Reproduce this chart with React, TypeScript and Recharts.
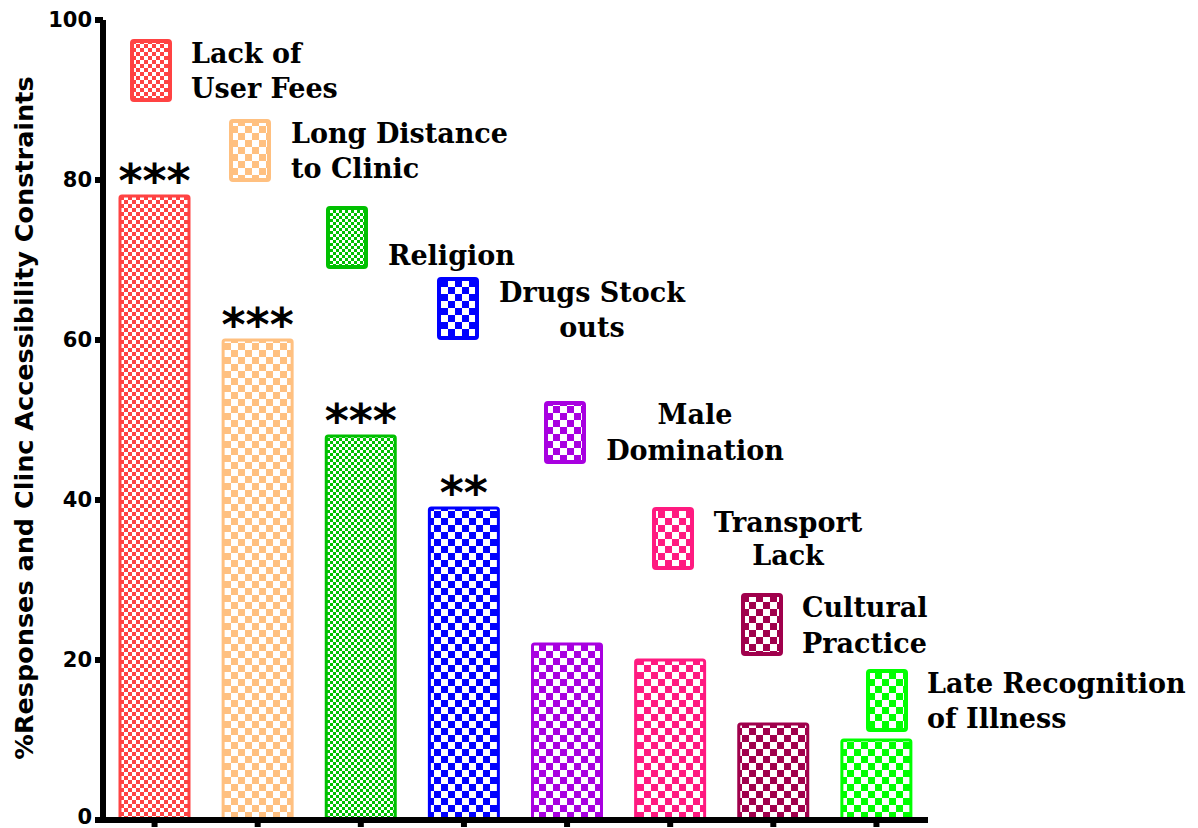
import React from "react";
import { BarChart, Bar, XAxis, YAxis, Cell, LabelList, Legend } from "recharts";

// ---- data ----
const categories = [
  "Lack of User Fees",
  "Long Distance to Clinic",
  "Religion",
  "Drugs Stock outs",
  "Male Domination",
  "Transport Lack",
  "Cultural Practice",
  "Late Recognition of Illness",
];
const values = [78, 60, 48, 39, 22, 20, 12, 10];
const significance = ["***", "***", "***", "**", "", "", "", ""];
const legendLines = [
  ["Lack of", "User Fees"],
  ["Long Distance", "to Clinic"],
  ["Religion"],
  ["Drugs Stock", "outs"],
  ["Male", "Domination"],
  ["Transport", "Lack"],
  ["Cultural", "Practice"],
  ["Late Recognition", "of Illness"],
];
const yTicks = [0, 20, 40, 60, 80, 100];
const yLabel = "%Responses and Clinc Accessibility Constraints";

// ---- styles ----
const colors = ["#FF4343", "#FFC080", "#00C000", "#0000FF", "#A800E0", "#FF1A80", "#A0004C", "#00FF00"];
const cellSizes = [4, 7, 3, 7, 7, 7, 7, 7];
const legendLayout = [
  { sx: 130, sy: 39, tx: 191, ty: [63, 98], anchor: "start" },
  { sx: 229, sy: 119, tx: 291, ty: [143, 178], anchor: "start" },
  { sx: 326, sy: 206, tx: 388, ty: [265], anchor: "start" },
  { sx: 437, sy: 277, tx: 592, ty: [302, 337], anchor: "middle" },
  { sx: 544, sy: 401, tx: 695, ty: [424, 460], anchor: "middle" },
  { sx: 652, sy: 507, tx: 788, ty: [532, 565], anchor: "middle" },
  { sx: 741, sy: 593, tx: 802, ty: [617, 653], anchor: "start" },
  { sx: 866, sy: 669, tx: 927, ty: [693, 728], anchor: "start" },
];

const data = categories.map((c, i) => ({ name: c, value: values[i], stars: significance[i] }));

const Patterns = ({ prefix }: { prefix: string }) => (
  <defs>
    {colors.map((col, i) => {
      const c = cellSizes[i];
      return (
        <pattern key={i} id={`${prefix}${i}`} patternUnits="userSpaceOnUse" width={2 * c} height={2 * c}>
          <rect x={0} y={0} width={2 * c} height={2 * c} fill={col} />
          <rect x={0} y={0} width={c} height={c} fill="#fff" />
          <rect x={c} y={c} width={c} height={c} fill="#fff" />
        </pattern>
      );
    })}
  </defs>
);

const renderStars = (props: any) => {
  const { x, y, width, value } = props;
  if (!value) return null;
  return (
    <text
      x={x + width / 2}
      y={y + 1}
      textAnchor="middle"
      fontFamily="DejaVu Sans"
      fontWeight="bold"
      fontSize={46}
      fill="#000"
    >
      {value}
    </text>
  );
};

const YTick = (props: any) => {
  const { x, y, payload } = props;
  const lift = payload.value === 0 ? -3 : 0;
  return (
    <text
      x={x}
      y={y + lift}
      dy="0.355em"
      textAnchor="end"
      fontFamily="DejaVu Sans"
      fontWeight="bold"
      fontSize={21}
      fill="#000"
    >
      {payload.value}
    </text>
  );
};

const LegendContent = () => (
  <svg width={1198} height={828} style={{ position: "absolute", left: 0, top: 0, pointerEvents: "none" }}>
    <Patterns prefix="lg" />
    {legendLayout.map((l, i) => (
      <g key={i}>
        <rect
          x={l.sx + 2}
          y={l.sy + 2}
          width={38}
          height={59}
          rx={2}
          fill={`url(#lg${i})`}
          stroke={colors[i]}
          strokeWidth={4}
        />
        {legendLines[i].map((line, j) => (
          <text
            key={j}
            x={l.tx}
            y={l.ty[j]}
            textAnchor={l.anchor as any}
            fontFamily="DejaVu Serif"
            fontWeight="bold"
            fontSize={27}
            fill="#000"
          >
            {line}
          </text>
        ))}
      </g>
    ))}
  </svg>
);

const YLabel = () => (
  <text
    transform="translate(33, 418) rotate(-90)"
    textAnchor="middle"
    fontFamily="DejaVu Sans"
    fontWeight="bold"
    fontSize={25.5}
    fill="#000"
  >
    {yLabel}
  </text>
);

export default function App() {
  return (
    <div style={{ position: "absolute", left: 0, top: 0, width: 1198, height: 828, background: "#fff" }}>
      <BarChart
        width={1198}
        height={828}
        data={data}
        margin={{ top: 20, right: 270, left: 0, bottom: 0 }}
        barCategoryGap={0}
      >
        <Patterns prefix="bp" />
        <XAxis
          dataKey="name"
          height={8}
          tick={() => <g />}
          tickSize={7}
          stroke="#000"
          strokeWidth={6}
          tickLine={{ stroke: "#000", strokeWidth: 6 }}
          axisLine={{ stroke: "#000", strokeWidth: 6 }}
          interval={0}
        />
        <YAxis
          width={103}
          domain={[0, 100]}
          ticks={yTicks}
          interval={0}
          tickSize={8}
          tickMargin={3}
          stroke="#000"
          strokeWidth={6}
          tickLine={{ stroke: "#000", strokeWidth: 6 }}
          axisLine={{ stroke: "#000", strokeWidth: 6 }}
          tick={<YTick />}
          label={<YLabel />}
        />
        <Legend verticalAlign="middle" align="center" wrapperStyle={{ position: "absolute", left: 0, top: 0, width: 1198, height: 828 }} content={<LegendContent />} />
        <Bar dataKey="value" barSize={69} strokeWidth={3} radius={2} isAnimationActive={false}>
          {data.map((d, i) => (
            <Cell key={i} fill={`url(#bp${i})`} stroke={colors[i]} />
          ))}
          <LabelList dataKey="stars" content={renderStars} />
        </Bar>
      </BarChart>
    </div>
  );
}
